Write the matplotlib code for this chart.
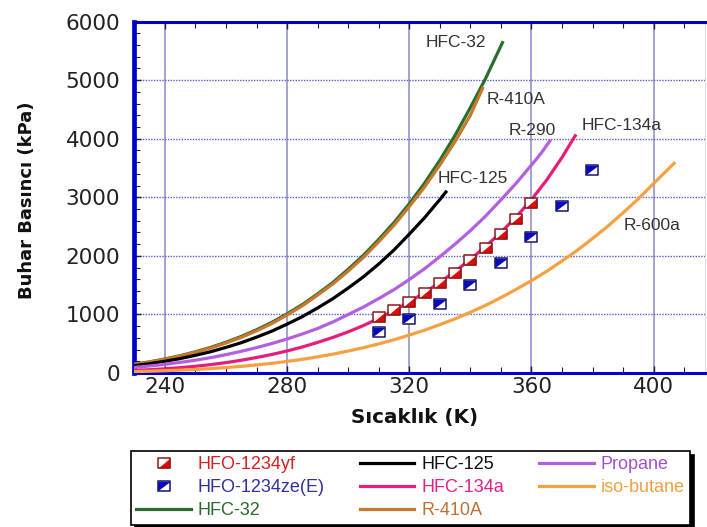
import matplotlib.pyplot as plt
from matplotlib.path import Path
from matplotlib.ticker import MultipleLocator

# saturation curves: temperature (K) and vapour pressure (kPa)
T_r32 = [230, 235, 240, 245, 250, 255, 260, 265, 270, 275, 280, 285, 290, 295, 300, 305,
         310, 315, 320, 325, 330, 335, 340, 345, 350.5]
P_r32 = [150, 190, 240, 295, 362, 437, 525, 624, 738, 865, 1010, 1168, 1350, 1546, 1770, 2010,
         2280, 2568, 2890, 3240, 3630, 4058, 4530, 5030, 5640]

T_r410a = [230, 235, 240, 245, 250, 255, 260, 265, 270, 275, 280, 285, 290, 295, 300, 305,
           310, 315, 320, 325, 330, 335, 340, 344]
P_r410a = [149, 187, 235, 289, 355, 426, 512, 608, 720, 844, 990, 1147, 1330, 1521, 1740, 1974,
           2240, 2522, 2840, 3175, 3550, 3952, 4400, 4860]

T_r125 = [230, 235, 240, 245, 250, 255, 260, 265, 270, 275, 280, 285, 290, 295, 300, 305,
          310, 315, 320, 325, 330, 332]
P_r125 = [126, 159, 200, 246, 302, 363, 437, 517, 612, 714, 834, 962, 1110, 1269, 1450, 1642,
          1860, 2100, 2370, 2650, 2960, 3090]

T_r290 = [230, 235, 240, 245, 250, 255, 260, 265, 270, 275, 280, 285, 290, 295, 300, 305,
          310, 315, 320, 325, 330, 335, 340, 345, 350, 355, 360, 363, 366]
P_r290 = [95, 119, 148, 181, 218, 262, 313, 370, 433, 503, 580, 666, 760, 871, 998, 1126,
          1270, 1423, 1595, 1780, 1985, 2200, 2430, 2680, 2955, 3240, 3550, 3740, 3960]

T_r134a = [230, 235, 240, 245, 250, 255, 260, 265, 270, 275, 280, 285, 290, 295, 300, 305,
           310, 315, 320, 325, 330, 335, 340, 345, 350, 355, 360, 365, 370, 374.3]
P_r134a = [44, 56, 72, 91, 115, 143, 177, 217, 264, 316, 376, 444, 522, 607, 702, 810,
           933, 1065, 1213, 1372, 1546, 1735, 1940, 2160, 2400, 2665, 2960, 3295, 3680, 4050]

T_r600a = [230, 235, 240, 245, 250, 255, 260, 265, 270, 275, 280, 285, 290, 295, 300, 305,
           310, 315, 320, 325, 330, 335, 340, 345, 350, 355, 360, 365, 370, 375, 380, 385,
           390, 395, 400, 403, 406.7]
P_r600a = [23, 30, 39, 49, 61, 75, 93, 113, 138, 165, 198, 233, 276, 322, 375, 432,
           497, 567, 647, 731, 825, 925, 1037, 1155, 1287, 1428, 1577, 1736, 1912, 2095, 2296, 2506,
           2735, 2975, 3235, 3390, 3580]

# measured points
T_yf = [310, 315, 320, 325, 330, 335, 340, 345, 350, 355, 360]
P_yf = [949, 1073, 1215, 1364, 1530, 1711, 1923, 2133, 2373, 2629, 2897]

T_ze = [310, 320, 330, 340, 350, 360, 370, 379.7]
P_ze = [703, 920, 1181, 1501, 1882, 2326, 2851, 3467]

plt.rcParams['font.family'] = ['Liberation Sans', 'DejaVu Sans']

fig = plt.figure(figsize=(7.07, 5.27), dpi=100)
ax = fig.add_axes([134 / 707, 1 - 373 / 527, (705 - 134) / 707, (373 - 21.5) / 527])

ax.set_xlim(229.9, 416.8)
ax.set_ylim(0, 6000)
ax.set_xticks([240, 280, 320, 360, 400])
ax.set_yticks(range(0, 6001, 1000))
ax.xaxis.set_minor_locator(MultipleLocator(10))
ax.yaxis.set_minor_locator(MultipleLocator(200))

ax.grid(axis='x', which='major', color='#8a8ac4', lw=1.1, zorder=0)
ax.grid(axis='y', which='major', color='#5a5ad2', lw=1.0, ls=(0, (1, 1)), zorder=0)
ax.set_axisbelow(True)

blue = '#0000c8'
for s in ['left', 'top', 'bottom']:
    ax.spines[s].set_color(blue)
ax.spines['left'].set_linewidth(3.4)
ax.spines['top'].set_linewidth(2.2)
ax.spines['bottom'].set_linewidth(2.2)
ax.spines['right'].set_color('#dcdcec')
ax.spines['right'].set_linewidth(0.8)

ax.tick_params(which='both', direction='in', top=True, bottom=True, left=True, right=False,
               color='#1a1a50', labelcolor='#222222')
ax.tick_params(which='major', length=5, width=1)
ax.tick_params(which='minor', length=4, width=0.8)
ax.tick_params(axis='x', labelsize=15.5, pad=3)
ax.tick_params(axis='y', labelsize=15.5, pad=10)
for lab in ax.get_xticklabels() + ax.get_yticklabels():
    lab.set_family('DejaVu Sans')

lw = 2.3
h32, = ax.plot(T_r32, P_r32, color='#2b6e2b', lw=lw, zorder=3)
h410, = ax.plot(T_r410a, P_r410a, color='#c8782c', lw=lw, zorder=3)
h125, = ax.plot(T_r125, P_r125, color='black', lw=lw, zorder=3)
h290, = ax.plot(T_r290, P_r290, color='#b35fe0', lw=lw, zorder=3)
h134, = ax.plot(T_r134a, P_r134a, color='#e61e7a', lw=lw, zorder=3)
h600, = ax.plot(T_r600a, P_r600a, color='#f5a142', lw=lw, zorder=3)

# half-filled rectangular markers
asp = 1.35
rect = Path([(-asp, -1), (asp, -1), (asp, 1), (-asp, 1), (-asp, -1)], closed=True)
tri_lr = Path([(-asp, -1), (asp, -1), (asp, 1), (-asp, -1)], closed=True)
tri_ul = Path([(-asp, -1), (asp, 1), (-asp, 1), (-asp, -1)], closed=True)


def half_markers(T, P, fill, edge, tri, ms=9.2):
    a, = ax.plot(T, P, ls='none', marker=rect, ms=ms, mfc='white', mec='none', zorder=5)
    b, = ax.plot(T, P, ls='none', marker=tri, ms=ms, mfc=fill, mec='none', zorder=6)
    c, = ax.plot(T, P, ls='none', marker=rect, ms=ms, mfc='none', mec=edge, mew=1.1, zorder=7)
    return (a, b, c)


hyf = half_markers(T_yf, P_yf, '#e00a0a', '#8a1a1a', tri_lr)
hze = half_markers(T_ze, P_ze, '#0808c0', '#14146e', tri_ul)

# curve names
lbl = dict(fontsize=12.5, color='#333333', ha='center', va='center', zorder=8)
ax.text(335.3, 5643, 'HFC-32', **lbl)
ax.text(355.0, 4663, 'R-410A', **lbl)
ax.text(360.3, 4133, 'R-290', **lbl)
ax.text(389.4, 4224, 'HFC-134a', **lbl)
ax.text(340.7, 3313, 'HFC-125', **lbl)
ax.text(399.4, 2515, 'R-600a', **lbl)

fig.text(27 / 707, 1 - 200 / 527, 'Buhar Basıncı (kPa)', rotation=90, ha='center', va='center',
         fontsize=13, fontweight='bold', family='DejaVu Sans', color='#111111')
fig.text(415 / 707, 1 - 417 / 527, 'Sıcaklık (K)', ha='center', va='center',
         fontsize=14.3, fontweight='bold', family='DejaVu Sans', color='#111111')

handles = [hyf, hze, h32, h125, h134, h410, h290, h600]
labels = ['HFO-1234yf', 'HFO-1234ze(E)', 'HFC-32', 'HFC-125', 'HFC-134a', 'R-410A',
          'Propane', 'iso-butane']
colors = ['#d42020', '#3030a0', '#2a6a2a', '#111111', '#e0208a', '#c07030', '#a050d0', '#f0a040']

leg = fig.legend(handles, labels, ncol=3, loc='upper left',
                 bbox_to_anchor=(131 / 707, 1 - 451 / 527), bbox_transform=fig.transFigure,
                 frameon=True, fancybox=False, framealpha=1,
                 shadow={'ox': 3, 'oy': -3, 'color': 'black', 'alpha': 1},
                 prop=dict(family='Liberation Sans', size=13),
                 borderpad=0.3, labelspacing=0.33, handlelength=3.0, handletextpad=0.4,
                 columnspacing=1.95, borderaxespad=0, labelcolor=colors)
leg.get_frame().set_edgecolor('black')
leg.get_frame().set_linewidth(1.2)

fig.savefig('out.png', dpi=100)
